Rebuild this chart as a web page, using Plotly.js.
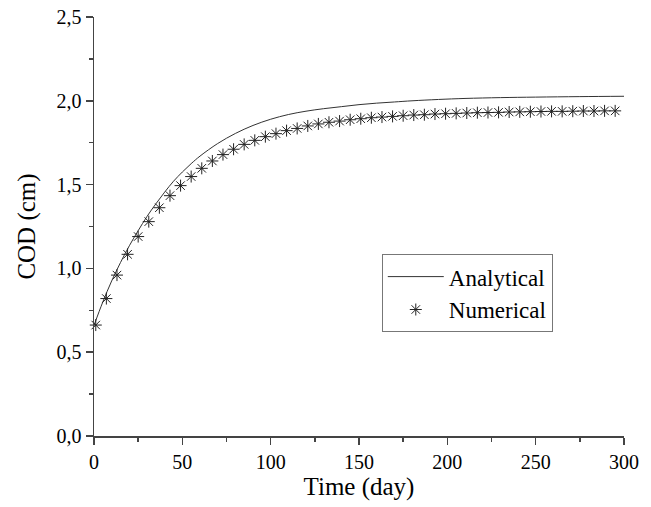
<!DOCTYPE html>
<html>
<head>
<meta charset="utf-8">
<script src="https://cdn.plot.ly/plotly-3.0.1.min.js"></script>
<style>html,body{margin:0;padding:0;background:#fff;}#chart{width:651px;height:507px;}</style>
</head>
<body>
<div id="chart"></div>
<script>
// Analytical solution
const analyticalDays = [0, 5, 10, 15, 20, 25, 30, 35, 40, 45, 50, 55, 60, 70, 80, 90, 100, 110, 120, 130, 140, 150, 160, 170, 180, 195, 210, 230, 250, 275, 300];
const analyticalCOD = [0.66, 0.80, 0.925, 1.035, 1.135, 1.225, 1.31, 1.385, 1.455, 1.52, 1.575, 1.625, 1.67, 1.745, 1.805, 1.853, 1.89, 1.918, 1.938, 1.953, 1.965, 1.977, 1.986, 1.993, 2.0, 2.008, 2.014, 2.019, 2.022, 2.025, 2.027];

// Numerical solution (asterisk markers)
const numericalDays = [1, 7, 13, 19, 25, 31, 37, 43, 49, 55, 61, 67, 73, 79, 85, 91, 97, 103, 109, 115, 121, 127, 133, 139, 145, 151, 157, 163, 169, 175, 181, 187, 193, 199, 205, 211, 217, 223, 229, 235, 241, 247, 253, 259, 265, 271, 277, 283, 289, 295];
const numericalCOD = [0.662, 0.82, 0.96, 1.084, 1.19, 1.279, 1.362, 1.434, 1.494, 1.548, 1.597, 1.641, 1.679, 1.711, 1.740, 1.764, 1.786, 1.804, 1.822, 1.835, 1.850, 1.862, 1.872, 1.879, 1.887, 1.893, 1.899, 1.903, 1.907, 1.911, 1.915, 1.917, 1.921, 1.923, 1.925, 1.927, 1.929, 1.930, 1.931, 1.933, 1.934, 1.935, 1.936, 1.937, 1.937, 1.938, 1.939, 1.939, 1.940, 1.940];

const seriesNames = ["Analytical", "Numerical"];
const xTitle = "Time (day)";
const yTitle = "COD (cm)";

const FONT = "'Liberation Serif'";
const AX = "#444";

const traces = [
  {
    x: analyticalDays, y: analyticalCOD, name: seriesNames[0],
    type: "scatter", mode: "lines",
    line: {color: "#333", width: 1, shape: "spline", smoothing: 1},
    cliponaxis: false
  },
  {
    x: numericalDays, y: numericalCOD, name: seriesNames[1],
    type: "scatter", mode: "markers",
    marker: {symbol: "asterisk-open", size: 10, color: "#222", line: {color: "#222", width: 1}},
    cliponaxis: false
  }
];

const layout = {
  width: 651, height: 507,
  margin: {l: 94, r: 27, t: 17, b: 71, pad: 0},
  paper_bgcolor: "#fff", plot_bgcolor: "#fff",
  separators: ", ",
  font: {family: FONT, size: 20, color: "#000"},
  showlegend: true,
  legend: {
    x: 0.543, y: 0.434, xanchor: "left", yanchor: "top",
    bordercolor: "#777", borderwidth: 1, bgcolor: "rgba(255,255,255,0)",
    font: {family: FONT, size: 23, color: "#000"},
    itemwidth: 56, tracegroupgap: 0
  },
  xaxis: {
    range: [0, 300], dtick: 50, tick0: 0,
    showgrid: false, zeroline: false,
    showline: true, linecolor: AX, linewidth: 1.5,
    ticks: "outside", ticklen: 7, tickwidth: 1.5, tickcolor: AX,
    minor: {dtick: 25, ticks: "outside", ticklen: 4, tickwidth: 1.5, tickcolor: AX, showgrid: false},
    tickfont: {family: FONT, size: 20, color: "#000"},
    title: {text: xTitle, font: {family: FONT, size: 25, color: "#000"}, standoff: 5}
  },
  yaxis: {
    range: [0, 2.5], dtick: 0.5, tick0: 0, tickformat: ".1f",
    showgrid: false, zeroline: false,
    showline: true, linecolor: AX, linewidth: 1.5,
    ticks: "outside", ticklen: 7, tickwidth: 1.5, tickcolor: AX,
    minor: {dtick: 0.25, ticks: "outside", ticklen: 4, tickwidth: 1.5, tickcolor: AX, showgrid: false},
    tickfont: {family: FONT, size: 20, color: "#000"},
    title: {text: yTitle, font: {family: FONT, size: 25, color: "#000"}, standoff: 14}
  }
};

Plotly.newPlot("chart", traces, layout, {staticPlot: true, displayModeBar: false});
</script>
</body>
</html>
